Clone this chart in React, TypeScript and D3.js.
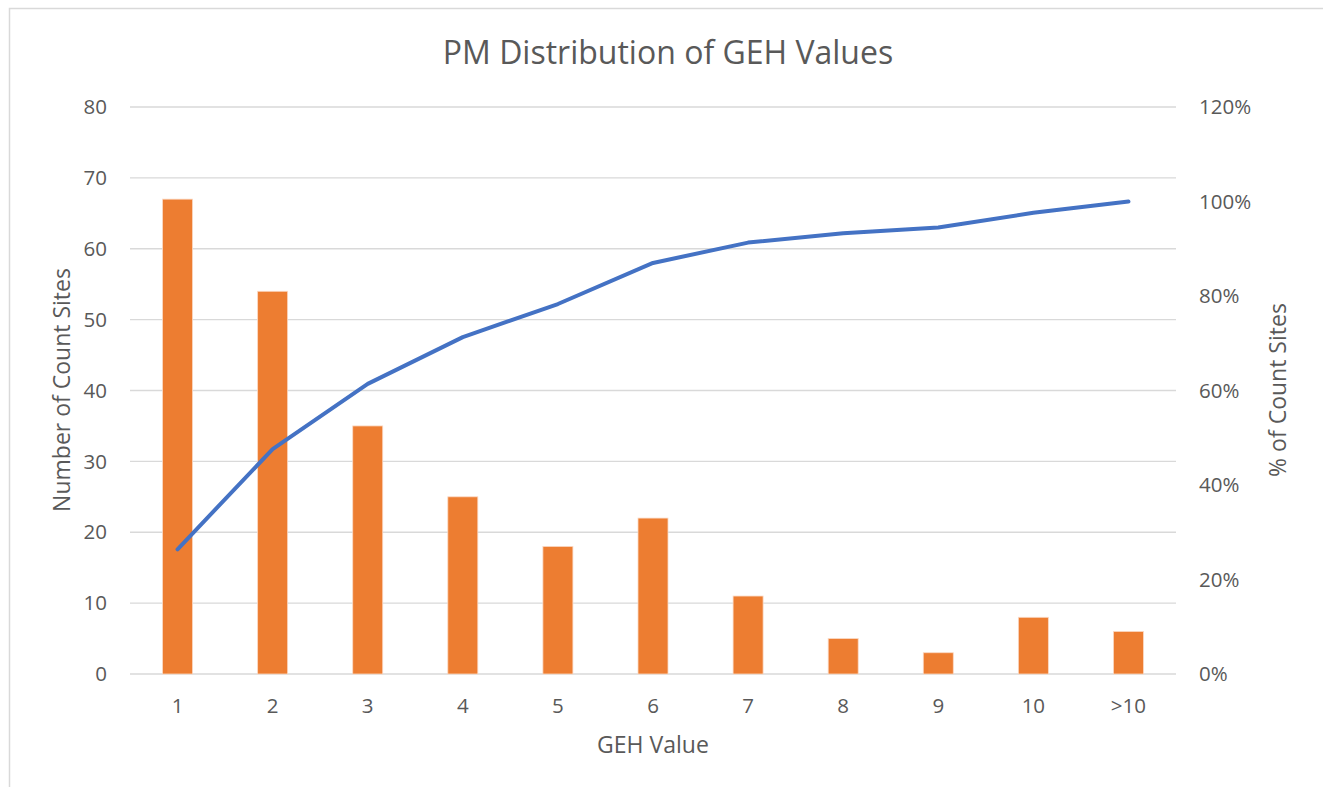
import React from "react";
import * as d3 from "d3";

const categories = ["1", "2", "3", "4", "5", "6", "7", "8", "9", "10", ">10"];
const counts = [67, 54, 35, 25, 18, 22, 11, 5, 3, 8, 6];
const cumulativePct = [26.4, 47.6, 61.4, 71.3, 78.3, 87.0, 91.3, 93.3, 94.5, 97.6, 100];
const leftTicks = [0, 10, 20, 30, 40, 50, 60, 70, 80];
const rightTicks = [0, 20, 40, 60, 80, 100, 120];

const W = 1323;
const H = 787;
const plot = { left: 130, right: 1176, top: 107, bottom: 674 };
const textColor = "#595959";
const font = "'Open Sans', sans-serif";

export default function App() {
  const x = d3
    .scaleBand<string>()
    .domain(categories)
    .range([plot.left, plot.right])
    .paddingInner(0.685)
    .paddingOuter(0.3425);
  const cx = (c: string) => (x(c) as number) + x.bandwidth() / 2;
  const barW = 30;
  const yL = d3.scaleLinear().domain([0, 80]).range([plot.bottom, plot.top]);
  const yR = d3.scaleLinear().domain([0, 120]).range([plot.bottom, plot.top]);
  const line = d3
    .line<number>()
    .x((_, i) => cx(categories[i]))
    .y((d) => yR(d));

  return (
    <svg
      width={W}
      height={H}
      style={{ position: "absolute", left: 0, top: 0, background: "#fff" }}
      fontFamily={font}
    >
      <rect x={9.5} y={8.5} width={W + 10} height={H + 10} fill="#fff" stroke="#d9d9d9" strokeWidth={1.5} />
      <text x={668} y={64} textAnchor="middle" fontSize={32} fill={textColor}>
        PM Distribution of GEH Values
      </text>
      {leftTicks.map((t) => (
        <g key={t}>
          <line x1={plot.left} x2={plot.right} y1={yL(t)} y2={yL(t)} stroke="#d9d9d9" strokeWidth={1.3} />
          <text x={107} y={yL(t)} dy="0.35em" textAnchor="end" fontSize={20.5} fill={textColor}>
            {t}
          </text>
        </g>
      ))}
      {rightTicks.map((t) => (
        <text key={t} x={1199} y={yR(t)} dy="0.35em" textAnchor="start" fontSize={20.5} fill={textColor}>
          {t}%
        </text>
      ))}
      {categories.map((c, i) => (
        <rect
          key={c}
          x={cx(c) - barW / 2}
          y={yL(counts[i])}
          width={barW}
          height={yL(0) - yL(counts[i])}
          fill="#ED7D31"
          stroke="#fbd9c4"
          strokeWidth={0.8}
        />
      ))}
      <path d={line(cumulativePct) || ""} fill="none" stroke="#4472C4" strokeWidth={4} strokeLinejoin="round" strokeLinecap="round" />
      {categories.map((c) => (
        <text key={c} x={cx(c)} y={706} dy="0.35em" textAnchor="middle" fontSize={20.5} fill={textColor}>
          {c}
        </text>
      ))}
      <text x={653} y={745} dy="0.35em" textAnchor="middle" fontSize={23} fill={textColor}>
        GEH Value
      </text>
      <text
        transform={`translate(62, 390) rotate(-90)`}
        dy="0.35em"
        textAnchor="middle"
        fontSize={23}
        fill={textColor}
      >
        Number of Count Sites
      </text>
      <text
        transform={`translate(1278, 390) rotate(-90)`}
        dy="0.35em"
        textAnchor="middle"
        fontSize={23}
        fill={textColor}
      >
        % of Count Sites
      </text>
    </svg>
  );
}
